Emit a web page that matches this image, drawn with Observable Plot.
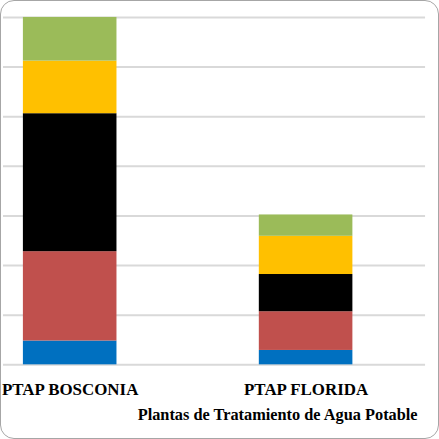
<!DOCTYPE html>
<html>
<head>
<meta charset="utf-8">
<script src="https://cdn.jsdelivr.net/npm/d3@7"></script>
<script src="https://cdn.jsdelivr.net/npm/@observablehq/plot@0.6"></script>
<style>
  html, body { margin: 0; padding: 0; background: #fff; }
  #frame { position: relative; width: 437px; height: 437px; border: 1px solid #a6a6a6; border-radius: 14px; overflow: hidden; background: #fff; }
  #frame svg { position: absolute; left: -1px; top: -1px; }
</style>
</head>
<body>
<div id="frame"></div>
<script>
const categories = ["PTAP BOSCONIA", "PTAP FLORIDA"];
const seriesNames = ["S1", "S2", "S3", "S4", "S5"];
const seriesColors = ["#0070C0", "#C0504D", "#000000", "#FFC000", "#9BBB59"];
const bosconiaValues = [0.48, 1.80, 2.78, 1.06, 0.88];
const floridaValues = [0.29, 0.78, 0.75, 0.77, 0.43];
const gridTicks = [0, 1, 2, 3, 4, 5, 6, 7];
const xTitle = "Plantas de Tratamiento de Agua Potable";

const rows = [];
seriesNames.forEach((s, i) => rows.push({cat: categories[0], series: s, value: bosconiaValues[i]}));
seriesNames.forEach((s, i) => rows.push({cat: categories[1], series: s, value: floridaValues[i]}));

const chart = Plot.plot({
  width: 439,
  height: 439,
  marginLeft: 3,
  marginRight: 12,
  marginTop: 17,
  marginBottom: 73,
  style: {fontFamily: "Liberation Serif"},
  x: {domain: categories, range: [22, 354], paddingInner: 0.605, paddingOuter: 0, label: null},
  y: {domain: [0, 7], axis: null},
  color: {domain: seriesNames, range: seriesColors},
  marks: [
    Plot.ruleY(gridTicks, {stroke: "#d9d9d9", strokeWidth: 2}),
    Plot.barY(rows, {x: "cat", y: "value", fill: "series", z: "series"}),
    Plot.axisX({tickSize: 0, tickPadding: 18, fontSize: 17, fontWeight: "bold", fontFamily: "Liberation Serif", label: null}),
    Plot.text([xTitle], {frameAnchor: "bottom-right", textAnchor: "end", dx: -8, dy: 55, fontSize: 16.4, fontWeight: "bold", fontFamily: "Liberation Serif", fill: "#000"})
  ]
});
document.getElementById("frame").appendChild(chart);
</script>
</body>
</html>
